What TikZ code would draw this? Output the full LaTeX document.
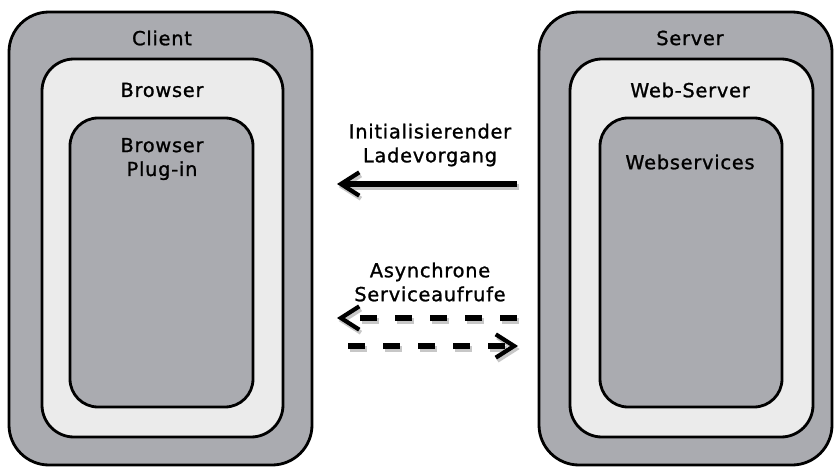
\documentclass[tikz,border=0pt]{standalone}
\usepackage{fontspec}
\setmainfont{DejaVu Sans}[LetterSpace=4, FakeBold=1.2]
\usetikzlibrary{arrows.meta}

\definecolor{tiergray}{RGB}{170,171,176}
\definecolor{tierlight}{RGB}{235,235,235}

\tikzset{
  tier/.style={draw=black, line width=2.4pt, inner sep=0pt, rounded corners=#1},
  caption/.style={font=\fontsize{16.5}{20.4}\selectfont, align=center, inner sep=0pt},
  flow/.style={line width=4.4pt, -{Straight Barb[length=5.5mm,width=7mm,line width=3.6pt]}},
  flowshadow/.style={flow, black, opacity=0.22, transform canvas={shift={(0.5mm,-0.9mm)}}},
  async/.style={dash pattern=on 5.1mm off 5.4mm}
}

\begin{document}
\begin{tikzpicture}[x=0.3mm,y=-0.3mm]
  \useasboundingbox (0,0) rectangle (834,467);

  % client side
  \node[tier=12mm, fill=tiergray, minimum width=90.9mm, minimum height=135.9mm] (client) at (160.5,238.5) {};
  \node[tier=9.6mm, fill=tierlight, minimum width=72.3mm, minimum height=113.4mm] (browser) at (162.5,248) {};
  \node[tier=8.4mm, fill=tiergray, minimum width=54.9mm, minimum height=86.7mm] (plugin) at (161.5,262.5) {};
  \node[caption] (clientlabel) at (162,38) {Client};
  \node[caption] (browserlabel) at (162,90) {Browser};
  \node[caption] (pluginlabel) at (162,159) {Browser\\Plug-in};

  % server side
  \node[tier=12mm, fill=tiergray, minimum width=87.9mm, minimum height=135.9mm] (server) at (685.5,238.5) {};
  \node[tier=9.6mm, fill=tierlight, minimum width=72.9mm, minimum height=113.4mm] (webserver) at (691.5,248) {};
  \node[tier=8.4mm, fill=tiergray, minimum width=54.6mm, minimum height=86.7mm] (webservices) at (691,262.5) {};
  \node[caption] (serverlabel) at (690,38) {Server};
  \node[caption] (webserverlabel) at (690,90) {Web-Server};
  \node[caption] (webserviceslabel) at (690,162) {Webservices};

  % connections
  \coordinate (loadfrom) at (517,184);
  \coordinate (loadto) at (337,184);
  \coordinate (callfrom) at (517,318);
  \coordinate (callto) at (337,318);
  \coordinate (replyfrom) at (348,346);
  \coordinate (replyto) at (518,346);

  \node[caption] (loadlabel) at (430,145) {Initialisierender\\Ladevorgang};
  \node[caption] (asynclabel) at (430,282) {Asynchrone\\Serviceaufrufe};

  \draw[flowshadow] (loadfrom) -- (loadto);
  \draw[flowshadow, async] (callfrom) -- (callto);
  \draw[flowshadow, async] (replyfrom) -- (replyto);
  \draw[flow] (loadfrom) -- (loadto);
  \draw[flow, async] (callfrom) -- (callto);
  \draw[flow, async] (replyfrom) -- (replyto);
\end{tikzpicture}
\end{document}
